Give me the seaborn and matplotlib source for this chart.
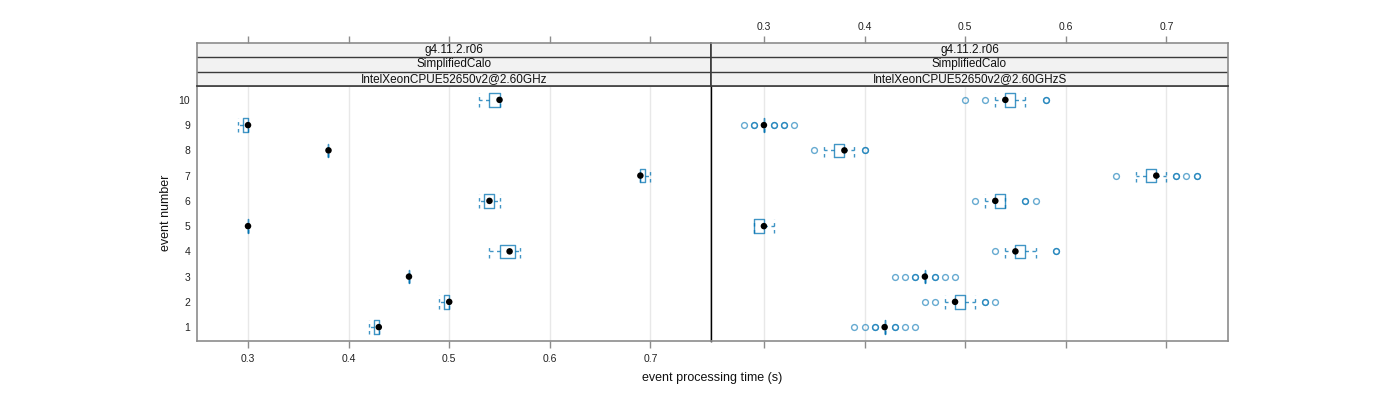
import numpy as np
import pandas as pd
import matplotlib
matplotlib.use("Agg")
import matplotlib.pyplot as plt
import seaborn as sns

# ---------------- data ----------------
events = list(range(1, 11))
strip_top = "g4.11.2.r06"
strip_mid = "SimplifiedCalo"
cpu_left = "IntelXeonCPUE52650v2@2.60GHz"
cpu_right = "IntelXeonCPUE52650v2@2.60GHzS"
x_ticks = [0.3, 0.4, 0.5, 0.6, 0.7]
x_tick_labels = ["0.3", "0.4", "0.5", "0.6", "0.7"]
y_tick_labels = [str(e) for e in events]

left_times = {
    1: [0.42, 0.43, 0.43],
    2: [0.49, 0.50, 0.50],
    3: [0.46, 0.46, 0.46],
    4: [0.54, 0.55, 0.55, 0.56, 0.56, 0.57, 0.57],
    5: [0.30, 0.30, 0.30],
    6: [0.53, 0.54, 0.55],
    7: [0.69, 0.69, 0.70],
    8: [0.38, 0.38, 0.38],
    9: [0.29, 0.30, 0.30],
    10: [0.53, 0.54, 0.55, 0.55, 0.55],
}

right_times = {
    1: [0.39, 0.40, 0.41, 0.41] + [0.42] * 14 + [0.43, 0.43, 0.44, 0.45],
    2: [0.46, 0.47, 0.48] + [0.49] * 7 + [0.50] * 4 + [0.51, 0.52, 0.52, 0.53],
    3: [0.43, 0.44, 0.45, 0.45] + [0.46] * 14 + [0.47, 0.47, 0.48, 0.49],
    4: [0.53, 0.54] + [0.55] * 6 + [0.56] * 4 + [0.57, 0.59, 0.59],
    5: [0.29] * 3 + [0.30] * 5 + [0.31],
    6: [0.51, 0.52] + [0.53] * 8 + [0.54] * 4 + [0.56, 0.56, 0.57],
    7: [0.65, 0.67] + [0.68] * 5 + [0.69] * 12 + [0.70, 0.71, 0.71, 0.72, 0.73, 0.73],
    8: [0.35, 0.36] + [0.37] * 3 + [0.38] * 5 + [0.39, 0.40, 0.40],
    9: [0.28, 0.29, 0.29] + [0.30] * 14 + [0.31, 0.31, 0.32, 0.32, 0.33],
    10: [0.50, 0.52, 0.53, 0.53] + [0.54] * 8 + [0.55] * 6 + [0.56, 0.58, 0.58],
}


def to_frame(d):
    rows = [(ev, t) for ev, ts in d.items() for t in ts]
    return pd.DataFrame(rows, columns=["event", "time"])


df_left = to_frame(left_times)
df_right = to_frame(right_times)

# ---------------- style ----------------
sns.set_style("white")
plt.rcParams["font.family"] = ["Liberation Sans", "DejaVu Sans"]

BLUE = "#0072b2"
GRID = "#e8e8e8"
FRAME = "#8c8c8c"
STRIP_BG = "#f2f2f2"

W, H = 1400, 400
fig = plt.figure(figsize=(14, 4), dpi=100)


def fx(px):
    return px / W


def fy(py):
    return 1 - py / H


panel_top, panel_bot = 86, 341
strip_top_px = 43
panels = [
    dict(x0=197, x1=711, xlim=(0.2493, 0.7602), df=df_left, cpu=cpu_left),
    dict(x0=711, x1=1228, xlim=(0.2474, 0.7613), df=df_right, cpu=cpu_right),
]

box_width = 0.53


def draw_grid(ax):
    for xt in x_ticks:
        ax.axvline(xt, color=GRID, lw=1, zorder=0)


for i, p in enumerate(panels):
    ax = fig.add_axes([fx(p["x0"]), fy(panel_bot), fx(p["x1"] - p["x0"]),
                       (panel_bot - panel_top) / H])
    ax.set_axisbelow(True)
    draw_grid(ax)
    n_before = len(ax.lines)

    sns.boxplot(
        data=p["df"], x="time", y="event", orient="h", native_scale=True,
        width=box_width, fill=False, color=BLUE, whis=1.5, linewidth=1.0,
        fliersize=4.2, ax=ax,
        boxprops=dict(alpha=0.75, color=BLUE),
        whiskerprops=dict(linestyle=(0, (2.5, 2.5)), alpha=0.75, color=BLUE),
        capprops=dict(linestyle=(0, (2.5, 2.5)), alpha=0.75, color=BLUE),
        medianprops=dict(visible=False),
        flierprops=dict(marker="o", markerfacecolor="none",
                        markeredgecolor=BLUE, markeredgewidth=1.0, alpha=0.6),
    )

    # lattice-style whisker caps spanning the full box height
    for ln in ax.lines[n_before:]:
        xd = np.asarray(ln.get_xdata(), dtype=float)
        yd = np.asarray(ln.get_ydata(), dtype=float)
        if (ln.get_visible() and len(xd) == 2 and ln.get_linestyle() != "None"
                and np.isclose(xd[0], xd[1]) and not np.isclose(yd[0], yd[1])):
            c = yd.mean()
            ln.set_ydata([c - box_width / 2, c + box_width / 2])

    med = p["df"].groupby("event", as_index=False)["time"].median()
    sns.scatterplot(data=med, x="time", y="event", ax=ax, color="black",
                    s=22, edgecolor="none", zorder=5, legend=False)

    ax.set_xlim(*p["xlim"])
    ax.set_ylim(0.45, 10.55)
    ax.set_xlabel("")
    ax.set_ylabel("")
    ax.set_xticks(x_ticks)
    ax.set_yticks(events)
    ax.tick_params(axis="x", direction="out", length=5, width=1, color=FRAME,
                   bottom=True, top=False, pad=4, labelsize=7.5,
                   labelcolor="#222222")
    if i == 0:
        ax.set_xticklabels(x_tick_labels)
        ax.set_yticklabels(y_tick_labels)
        ax.tick_params(axis="y", length=0, pad=5, labelsize=7.5,
                       labelcolor="#222222")
    else:
        ax.set_xticklabels([])
        ax.set_yticklabels([])
        ax.tick_params(axis="y", length=0)
    for s in ax.spines.values():
        s.set_visible(True)
        s.set_color(FRAME)
        s.set_linewidth(1.2)
    if i == 0:
        ax.spines["right"].set_color("black")
        ax.spines["right"].set_linewidth(1.0)
    else:
        ax.spines["left"].set_color("black")
        ax.spines["left"].set_linewidth(1.0)

    # strips
    sax = fig.add_axes([fx(p["x0"]), fy(panel_top), fx(p["x1"] - p["x0"]),
                        (panel_top - strip_top_px) / H])
    sax.set_xlim(*p["xlim"])
    sax.set_ylim(0, 3)
    sax.set_facecolor(STRIP_BG)
    for yy in (1, 2):
        sax.axhline(yy, color="#3a3a3a", lw=1)
    labels = [p["cpu"], strip_mid, strip_top]
    for k, lab in enumerate(labels):
        sax.text(0.5, (k + 0.5) / 3, lab, transform=sax.transAxes,
                 ha="center", va="center", fontsize=8.5, color="#111111")
    sax.set_yticks([])
    sax.set_xticks(x_ticks)
    sax.tick_params(axis="x", direction="out", length=5, width=1, color=FRAME,
                    bottom=False, top=True, labelbottom=False,
                    labeltop=(i == 1), pad=3, labelsize=7.5,
                    labelcolor="#222222")
    if i == 1:
        sax.set_xticklabels(x_tick_labels)
    for s in sax.spines.values():
        s.set_visible(True)
        s.set_color(FRAME)
        s.set_linewidth(1.2)
    sax.spines["bottom"].set_color("#3a3a3a")
    if i == 0:
        sax.spines["right"].set_color("#3a3a3a")
    else:
        sax.spines["left"].set_color("#3a3a3a")

fig.text(fx(712), fy(378), "event processing time (s)", ha="center",
         va="center", fontsize=9, color="#111111")
fig.text(fx(166), fy(213), "event number", ha="center", va="center",
         rotation=90, fontsize=9, color="#111111")

fig.savefig("out.png", dpi=100)
